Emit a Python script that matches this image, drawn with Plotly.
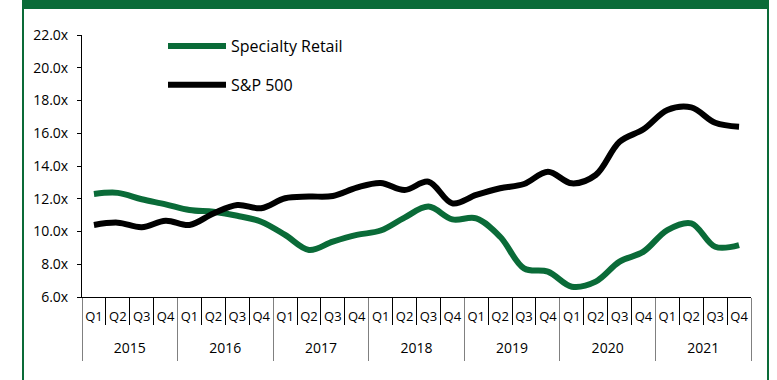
import plotly.graph_objects as go

years = ["2015", "2016", "2017", "2018", "2019", "2020", "2021"]
quarters = ["Q1", "Q2", "Q3", "Q4"]

specialty_retail = [12.29, 12.36, 11.97, 11.66, 11.31, 11.20, 10.96, 10.60,
                    9.79, 8.87, 9.38, 9.79, 10.06, 10.85, 11.52, 10.74,
                    10.80, 9.68, 7.75, 7.55, 6.63, 6.94, 8.16, 8.77,
                    10.09, 10.50, 9.07, 9.17]
sp500 = [10.40, 10.54, 10.26, 10.66, 10.40, 11.10, 11.62, 11.42,
         12.03, 12.13, 12.17, 12.68, 12.96, 12.53, 13.04, 11.72,
         12.23, 12.64, 12.90, 13.65, 12.94, 13.45, 15.48, 16.24,
         17.42, 17.58, 16.64, 16.40]

y_ticks = [6, 8, 10, 12, 14, 16, 18, 20, 22]
y_tick_text = ["6.0x", "8.0x", "10.0x", "12.0x", "14.0x", "16.0x", "18.0x", "20.0x", "22.0x"]

x_keys = [f"{y} {q}" for y in years for q in quarters]
x_quarter_labels = [q for _ in years for q in quarters]

GREEN = "#0a6b38"
FONT = "Open Sans, sans-serif"

W, H = 777, 380
L, R, T, B = 82, 26, 35, 83
PW, PH = W - L - R, H - T - B

def px_x(p):
    return (p - L) / PW

def px_y(p):
    return 1 - (p - T) / PH

fig = go.Figure()
fig.add_trace(go.Scatter(
    x=x_keys, y=specialty_retail, name="Specialty Retail",
    mode="lines", line=dict(color=GREEN, width=6, shape="spline", smoothing=1.0),
    legendgroup="a"))
fig.add_trace(go.Scatter(
    x=x_keys, y=sp500, name="S&P 500",
    mode="lines", line=dict(color="#000000", width=6, shape="spline", smoothing=1.0),
    legendgroup="b"))
# carrier for the year-level category axis (draws nothing)
fig.add_trace(go.Scatter(
    x=years, y=[None] * len(years), xaxis="x2", mode="lines",
    showlegend=False, hoverinfo="skip"))

shapes = [
    dict(type="rect", xref="paper", yref="paper", x0=px_x(22), x1=px_x(769),
         y0=px_y(0), y1=px_y(9), fillcolor=GREEN, line_width=0, layer="above"),
    dict(type="rect", xref="paper", yref="paper", x0=px_x(22), x1=px_x(24),
         y0=px_y(0), y1=px_y(380), fillcolor=GREEN, line_width=0, layer="above"),
    dict(type="rect", xref="paper", yref="paper", x0=px_x(767), x1=px_x(769),
         y0=px_y(0), y1=px_y(380), fillcolor=GREEN, line_width=0, layer="above"),
]

fig.update_layout(
    width=W, height=H,
    margin=dict(l=L, r=R, t=T, b=B),
    paper_bgcolor="white", plot_bgcolor="white",
    font=dict(family=FONT, size=12, color="#000"),
    shapes=shapes,
    showlegend=True,
    legend=dict(x=px_x(163), y=px_y(29), xanchor="left", yanchor="top",
                bgcolor="rgba(0,0,0,0)", font=dict(family=FONT, size=16, color="#000"),
                traceorder="grouped", tracegroupgap=15, itemwidth=58),
    xaxis=dict(type="category", categoryorder="array", categoryarray=x_keys,
               range=[-0.5, len(x_keys) - 0.5],
               tickvals=x_keys, ticktext=x_quarter_labels, tickangle=0,
               showline=True, linecolor="#000", linewidth=1,
               ticks="outside", tickson="boundaries", ticklen=27, tickcolor="#000",
               ticklabelstandoff=7,
               tickfont=dict(family=FONT, size=13, color="#000"), showgrid=False),
    xaxis2=dict(type="category", overlaying="x", anchor="y", side="bottom",
                categoryorder="array", categoryarray=years, tickangle=0,
                range=[-0.5, len(years) - 0.5],
                showline=False, ticks="outside", tickson="boundaries", ticklen=63,
                tickcolor="#808080", ticklabelstandoff=41,
                tickfont=dict(family=FONT, size=14, color="#000"), showgrid=False),
    yaxis=dict(range=[6, 22], tickvals=y_ticks, ticktext=y_tick_text,
               showline=True, linecolor="#000", linewidth=1,
               ticks="outside", ticklen=4, tickcolor="#000", showgrid=False,
               ticklabelstandoff=6,
               zeroline=False, tickfont=dict(family=FONT, size=14, color="#000")),
)

fig.write_html("out.html")
